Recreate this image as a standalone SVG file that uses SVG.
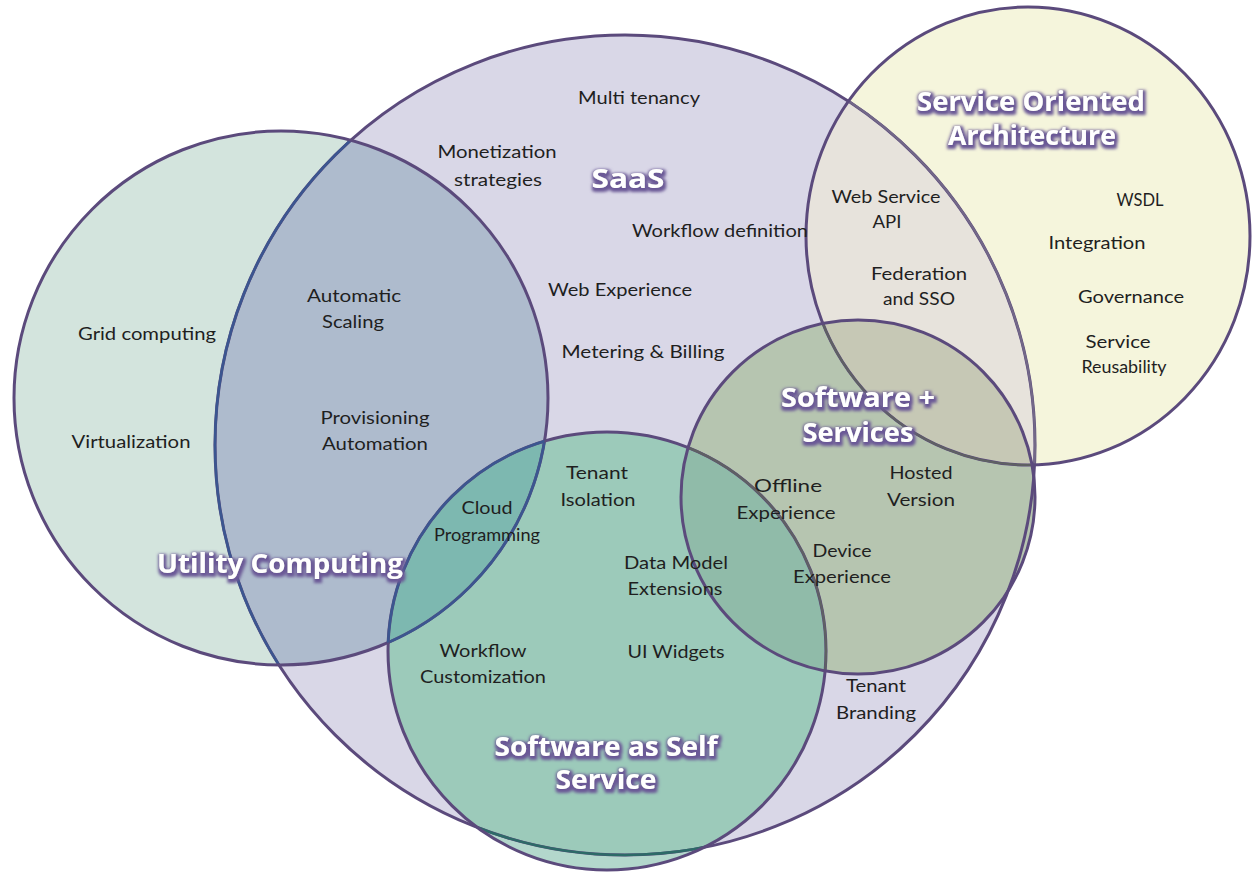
<svg xmlns="http://www.w3.org/2000/svg" width="1252" height="872" viewBox="0 0 1252 872">
  <defs>
    <style>
      .lbl { font-family: Lato, "Liberation Sans", sans-serif; font-size: 18px; fill: #1f1f1f; text-anchor: middle; }
      .ttl { font-family: "Open Sans", "Liberation Sans", sans-serif; font-weight: bold; font-size: 26px; fill: #ffffff; text-anchor: middle; filter: url(#glow); }
      .edge { fill: none; stroke: #5b4a7c; stroke-width: 3; }
      .edge-blue { fill: none; stroke: #3b5690; stroke-width: 2.6; }
      .edge-teal { fill: none; stroke: #2d6a68; stroke-width: 2.6; }
      .edge-grey { fill: none; stroke: #5f6163; stroke-width: 2.2; }
      .edge-soft { fill: none; stroke: #736888; stroke-width: 2.2; }
    </style>
    <!-- set outlines -->
    <circle id="shapeSaaS" cx="625" cy="445" r="410"/>
    <circle id="shapeUtil" cx="281" cy="398" r="267"/>
    <circle id="shapeSelf" cx="607" cy="651" r="219"/>
    <ellipse id="shapeSOA" cx="1028" cy="236" rx="222" ry="229"/>
    <circle id="shapeSPS" cx="858" cy="497" r="177"/>
    <clipPath id="cSaaS"><use href="#shapeSaaS"/></clipPath>
    <clipPath id="cUtil"><use href="#shapeUtil"/></clipPath>
    <clipPath id="cSelf"><use href="#shapeSelf"/></clipPath>
    <clipPath id="cSOA"><use href="#shapeSOA"/></clipPath>
    <clipPath id="cSPS"><use href="#shapeSPS"/></clipPath>
    <filter id="glow" x="-15%" y="-40%" width="130%" height="180%">
      <feMorphology in="SourceAlpha" operator="dilate" radius="1.8" result="wide"/>
      <feGaussianBlur in="wide" stdDeviation="1.5" result="soft"/>
      <feOffset in="soft" dx="1" dy="1.5" result="shifted"/>
      <feFlood flood-color="#6a5896"/>
      <feComposite in2="shifted" operator="in" result="halo"/>
      <feMerge>
        <feMergeNode in="halo"/>
        <feMergeNode in="SourceGraphic"/>
      </feMerge>
    </filter>
  </defs>

  <rect width="1252" height="872" fill="#ffffff"/>

  <!-- region fills, drawn set by set -->
  <g id="saas">
    <use href="#shapeSaaS" fill="#d9d7e7"/>
  </g>
  <g id="utility-computing">
    <use href="#shapeUtil" fill="#d3e4dd"/>
    <g clip-path="url(#cSaaS)"><use href="#shapeUtil" fill="#aebbcd"/></g>
  </g>
  <g id="software-as-self-service">
    <use href="#shapeSelf" fill="#b3d7cc"/>
    <g clip-path="url(#cSaaS)"><use href="#shapeSelf" fill="#9ccaba"/></g>
    <g clip-path="url(#cSaaS)"><g clip-path="url(#cUtil)"><use href="#shapeSelf" fill="#7db8b0"/></g></g>
  </g>
  <g id="service-oriented-architecture">
    <use href="#shapeSOA" fill="#f5f5dc"/>
    <g clip-path="url(#cSaaS)"><use href="#shapeSOA" fill="#e7e3dc"/></g>
  </g>
  <g id="software-plus-services">
    <use href="#shapeSPS" fill="#b6c5b0"/>
    <g clip-path="url(#cSelf)"><use href="#shapeSPS" fill="#90bba9"/></g>
    <g clip-path="url(#cSOA)"><use href="#shapeSPS" fill="#c6c8b5"/></g>
  </g>

  <!-- outlines; segments lying under later sets take a tinted colour -->
  <g id="connectors">
    <use href="#shapeSaaS" class="edge"/>
    <g clip-path="url(#cUtil)"><use href="#shapeSaaS" class="edge-blue"/></g>
    <g clip-path="url(#cSelf)"><use href="#shapeSaaS" class="edge-teal"/></g>
    <g clip-path="url(#cSOA)"><use href="#shapeSaaS" class="edge-soft"/></g>
    <use href="#shapeUtil" class="edge"/>
    <g clip-path="url(#cSelf)"><use href="#shapeUtil" class="edge-blue"/></g>
    <use href="#shapeSelf" class="edge"/>
    <g clip-path="url(#cUtil)"><use href="#shapeSelf" class="edge-blue"/></g>
    <g clip-path="url(#cSPS)"><use href="#shapeSelf" class="edge-grey"/></g>
    <use href="#shapeSOA" class="edge"/>
    <g clip-path="url(#cSPS)"><use href="#shapeSOA" class="edge-grey"/></g>
    <use href="#shapeSPS" class="edge"/>
  </g>

  <!-- labels -->
  <g id="saas-labels">
    <text class="lbl" x="639" y="104" textLength="122" lengthAdjust="spacingAndGlyphs">Multi tenancy</text>
    <text class="lbl" x="497" y="158" textLength="119" lengthAdjust="spacingAndGlyphs">Monetization</text>
    <text class="lbl" x="498" y="186" textLength="88" lengthAdjust="spacingAndGlyphs">strategies</text>
    <text class="lbl" x="720" y="237" textLength="176" lengthAdjust="spacingAndGlyphs">Workflow definition</text>
    <text class="lbl" x="620" y="296" textLength="144" lengthAdjust="spacingAndGlyphs">Web Experience</text>
    <text class="lbl" x="643" y="358" textLength="163" lengthAdjust="spacingAndGlyphs">Metering &amp; Billing</text>
    <text class="lbl" x="876" y="692" textLength="60" lengthAdjust="spacingAndGlyphs">Tenant</text>
    <text class="lbl" x="876" y="719" textLength="80" lengthAdjust="spacingAndGlyphs">Branding</text>
    <text class="ttl" x="628" y="188" textLength="73" lengthAdjust="spacingAndGlyphs">SaaS</text>
  </g>
  <g id="utility-labels">
    <text class="lbl" x="147" y="340" textLength="138" lengthAdjust="spacingAndGlyphs">Grid computing</text>
    <text class="lbl" x="131" y="448" textLength="119" lengthAdjust="spacingAndGlyphs">Virtualization</text>
    <text class="lbl" x="354" y="302" textLength="94" lengthAdjust="spacingAndGlyphs">Automatic</text>
    <text class="lbl" x="353" y="328" textLength="62" lengthAdjust="spacingAndGlyphs">Scaling</text>
    <text class="lbl" x="375" y="424" textLength="109" lengthAdjust="spacingAndGlyphs">Provisioning</text>
    <text class="lbl" x="375" y="450" textLength="106" lengthAdjust="spacingAndGlyphs">Automation</text>
    <text class="lbl" x="487" y="514" textLength="51" lengthAdjust="spacingAndGlyphs">Cloud</text>
    <text class="lbl" x="487" y="541" textLength="106" lengthAdjust="spacingAndGlyphs">Programming</text>
    <text class="ttl" x="280" y="573" textLength="246" lengthAdjust="spacingAndGlyphs">Utility Computing</text>
  </g>
  <g id="self-service-labels">
    <text class="lbl" x="597" y="479" textLength="62" lengthAdjust="spacingAndGlyphs">Tenant</text>
    <text class="lbl" x="598" y="506" textLength="75" lengthAdjust="spacingAndGlyphs">Isolation</text>
    <text class="lbl" x="676" y="569" textLength="104" lengthAdjust="spacingAndGlyphs">Data Model</text>
    <text class="lbl" x="675" y="595" textLength="95" lengthAdjust="spacingAndGlyphs">Extensions</text>
    <text class="lbl" x="483" y="657" textLength="87" lengthAdjust="spacingAndGlyphs">Workflow</text>
    <text class="lbl" x="483" y="683" textLength="126" lengthAdjust="spacingAndGlyphs">Customization</text>
    <text class="lbl" x="676" y="658" textLength="97" lengthAdjust="spacingAndGlyphs">UI Widgets</text>
    <text class="ttl" x="606" y="756" textLength="223" lengthAdjust="spacingAndGlyphs">Software as Self</text>
    <text class="ttl" x="606" y="789" textLength="101" lengthAdjust="spacingAndGlyphs">Service</text>
  </g>
  <g id="soa-labels">
    <text class="lbl" x="886" y="203" textLength="109" lengthAdjust="spacingAndGlyphs">Web Service</text>
    <text class="lbl" x="887" y="228" textLength="29" lengthAdjust="spacingAndGlyphs">API</text>
    <text class="lbl" x="919" y="280" textLength="96" lengthAdjust="spacingAndGlyphs">Federation</text>
    <text class="lbl" x="919" y="305" textLength="72" lengthAdjust="spacingAndGlyphs">and SSO</text>
    <text class="lbl" x="1140" y="206" textLength="47" lengthAdjust="spacingAndGlyphs">WSDL</text>
    <text class="lbl" x="1097" y="249" textLength="97" lengthAdjust="spacingAndGlyphs">Integration</text>
    <text class="lbl" x="1131" y="303" textLength="106" lengthAdjust="spacingAndGlyphs">Governance</text>
    <text class="lbl" x="1118" y="348" textLength="65" lengthAdjust="spacingAndGlyphs">Service</text>
    <text class="lbl" x="1124" y="373" textLength="85" lengthAdjust="spacingAndGlyphs">Reusability</text>
    <text class="ttl" x="1031" y="111" textLength="228" lengthAdjust="spacingAndGlyphs">Service Oriented</text>
    <text class="ttl" x="1032" y="145" textLength="168" lengthAdjust="spacingAndGlyphs">Architecture</text>
  </g>
  <g id="software-plus-services-labels">
    <text class="lbl" x="788" y="492" textLength="68" lengthAdjust="spacingAndGlyphs">Offline</text>
    <text class="lbl" x="786" y="519" textLength="99" lengthAdjust="spacingAndGlyphs">Experience</text>
    <text class="lbl" x="921" y="479" textLength="63" lengthAdjust="spacingAndGlyphs">Hosted</text>
    <text class="lbl" x="921" y="506" textLength="68" lengthAdjust="spacingAndGlyphs">Version</text>
    <text class="lbl" x="842" y="557" textLength="59" lengthAdjust="spacingAndGlyphs">Device</text>
    <text class="lbl" x="842" y="583" textLength="98" lengthAdjust="spacingAndGlyphs">Experience</text>
    <text class="ttl" x="858" y="407" textLength="154" lengthAdjust="spacingAndGlyphs">Software +</text>
    <text class="ttl" x="858" y="442" textLength="111" lengthAdjust="spacingAndGlyphs">Services</text>
  </g>
</svg>
